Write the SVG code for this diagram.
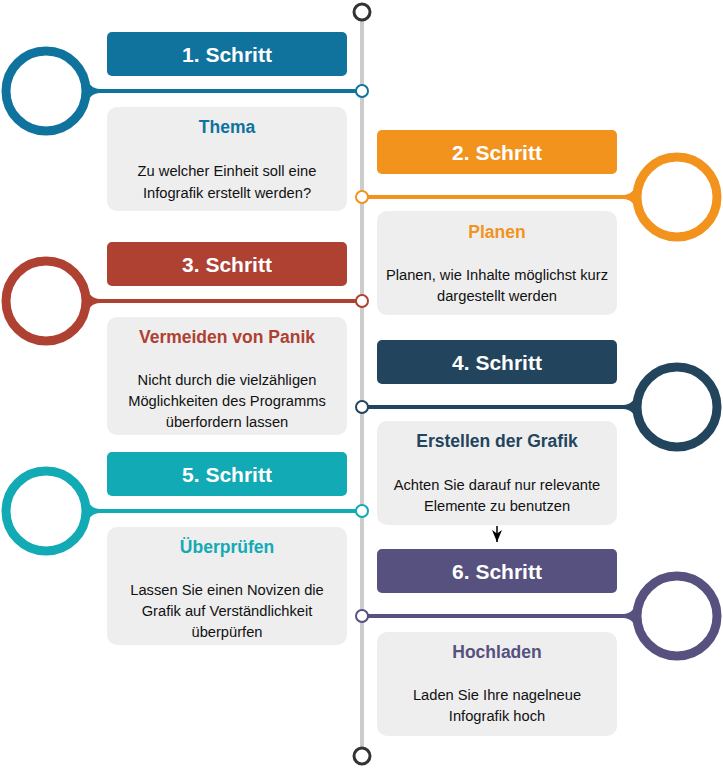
<svg xmlns="http://www.w3.org/2000/svg" width="723" height="768" viewBox="0 0 723 768">
<defs>
<style>
.hdr text{font-family:"Liberation Sans",Arial,sans-serif;font-weight:bold;font-size:21px;fill:#fff;text-anchor:middle}
.box{fill:#EEEEEE}
.ttl{font-family:"Liberation Sans",Arial,sans-serif;font-weight:bold;font-size:17.5px;text-anchor:middle}
.body{font-family:"Liberation Sans",Arial,sans-serif;font-size:14.7px;fill:#111;text-anchor:middle}
.big{fill:#fff;stroke-width:9}
.small{fill:#fff;stroke-width:2}
.conn{stroke-width:4;fill:none}
.term{fill:#fff;stroke:#333;stroke-width:3}
</style>
<marker id="arr" viewBox="0 0 12 10" refX="12" refY="5" markerWidth="12" markerHeight="10" markerUnits="userSpaceOnUse" orient="auto">
<path d="M0,0 L12,5 L0,10 L3.5,5 Z" fill="#000"/>
</marker>
<path id="filL" d="M85,-17 Q89,-2 100,-2 L100,2 Q89,2 85,17 Z"/>
<path id="filR" d="M638,-17 Q634,-2 623,-2 L623,2 Q634,2 638,17 Z"/>
</defs>
<rect width="723" height="768" fill="#fff"/>

<g id="connectors">
<line x1="362" y1="12" x2="362" y2="756" stroke="#CCCCCC" stroke-width="4"/>
<line x1="497" y1="526" x2="497" y2="542" stroke="#000" stroke-width="1.5" marker-end="url(#arr)"/>
</g>

<g id="terminal-top"><circle class="term" cx="362" cy="12" r="8"/></g>
<g id="terminal-bottom"><circle class="term" cx="362" cy="756" r="8"/></g>

<g id="step1">
<line class="conn" x1="86" y1="91" x2="362" y2="91" stroke="#10739E"/>
<use href="#filL" y="91" fill="#10739E"/>
<circle class="big" cx="46" cy="91" r="40" stroke="#10739E"/>
<circle class="small" cx="362" cy="91" r="6" stroke="#10739E"/>
<g class="hdr"><rect x="107" y="32" width="240" height="44" rx="5" fill="#10739E"/><text x="227" y="61.5">1. Schritt</text></g>
<rect class="box" x="107" y="107" width="240" height="104" rx="10"/>
<text class="ttl" x="227" y="133" fill="#10739E">Thema</text>
<text class="body" x="227" y="175.5">Zu welcher Einheit soll eine</text>
<text class="body" x="227" y="197.5">Infografik erstellt werden?</text>
</g>

<g id="step2">
<line class="conn" x1="362" y1="197" x2="637" y2="197" stroke="#F2931E"/>
<use href="#filR" y="197" fill="#F2931E"/>
<circle class="big" cx="677" cy="197" r="40" stroke="#F2931E"/>
<circle class="small" cx="362" cy="197" r="6" stroke="#F2931E"/>
<g class="hdr"><rect x="377" y="130" width="240" height="44" rx="5" fill="#F2931E"/><text x="497" y="159.5">2. Schritt</text></g>
<rect class="box" x="377" y="211" width="240" height="104" rx="10"/>
<text class="ttl" x="497" y="238" fill="#F2931E">Planen</text>
<text class="body" x="497" y="280">Planen, wie Inhalte möglichst kurz</text>
<text class="body" x="497" y="301">dargestellt werden</text>
</g>

<g id="step3">
<line class="conn" x1="86" y1="301" x2="362" y2="301" stroke="#AE4132"/>
<use href="#filL" y="301" fill="#AE4132"/>
<circle class="big" cx="46" cy="301" r="40" stroke="#AE4132"/>
<circle class="small" cx="362" cy="301" r="6" stroke="#AE4132"/>
<g class="hdr"><rect x="107" y="242" width="240" height="44" rx="5" fill="#AE4132"/><text x="227" y="271.5">3. Schritt</text></g>
<rect class="box" x="107" y="317" width="240" height="118" rx="10"/>
<text class="ttl" x="227" y="343" fill="#AE4132">Vermeiden von Panik</text>
<text class="body" x="227" y="385">Nicht durch die vielzähligen</text>
<text class="body" x="227" y="406">Möglichkeiten des Programms</text>
<text class="body" x="227" y="427">überfordern lassen</text>
</g>

<g id="step4">
<line class="conn" x1="362" y1="407" x2="637" y2="407" stroke="#23445D"/>
<use href="#filR" y="407" fill="#23445D"/>
<circle class="big" cx="677" cy="407" r="40" stroke="#23445D"/>
<circle class="small" cx="362" cy="407" r="6" stroke="#23445D"/>
<g class="hdr"><rect x="377" y="340" width="240" height="44" rx="5" fill="#23445D"/><text x="497" y="369.5">4. Schritt</text></g>
<rect class="box" x="377" y="421" width="240" height="104" rx="10"/>
<text class="ttl" x="497" y="447" fill="#23445D">Erstellen der Grafik</text>
<text class="body" x="497" y="490">Achten Sie darauf nur relevante</text>
<text class="body" x="497" y="511">Elemente zu benutzen</text>
</g>

<g id="step5">
<line class="conn" x1="86" y1="511" x2="362" y2="511" stroke="#12AAB5"/>
<use href="#filL" y="511" fill="#12AAB5"/>
<circle class="big" cx="46" cy="511" r="40" stroke="#12AAB5"/>
<circle class="small" cx="362" cy="511" r="6" stroke="#12AAB5"/>
<g class="hdr"><rect x="107" y="452" width="240" height="44" rx="5" fill="#12AAB5"/><text x="227" y="481.5">5. Schritt</text></g>
<rect class="box" x="107" y="527" width="240" height="118" rx="10"/>
<text class="ttl" x="227" y="553" fill="#12AAB5">Überprüfen</text>
<text class="body" x="227" y="595">Lassen Sie einen Novizen die</text>
<text class="body" x="227" y="616">Grafik auf Verständlichkeit</text>
<text class="body" x="227" y="637">überpürfen</text>
</g>

<g id="step6">
<line class="conn" x1="362" y1="616" x2="637" y2="616" stroke="#56517E"/>
<use href="#filR" y="616" fill="#56517E"/>
<circle class="big" cx="677" cy="616" r="40" stroke="#56517E"/>
<circle class="small" cx="362" cy="616" r="6" stroke="#56517E"/>
<g class="hdr"><rect x="377" y="549" width="240" height="44" rx="5" fill="#56517E"/><text x="497" y="578.5">6. Schritt</text></g>
<rect class="box" x="377" y="632" width="240" height="104" rx="10"/>
<text class="ttl" x="497" y="658" fill="#56517E">Hochladen</text>
<text class="body" x="497" y="700">Laden Sie Ihre nagelneue</text>
<text class="body" x="497" y="721">Infografik hoch</text>
</g>
</svg>
